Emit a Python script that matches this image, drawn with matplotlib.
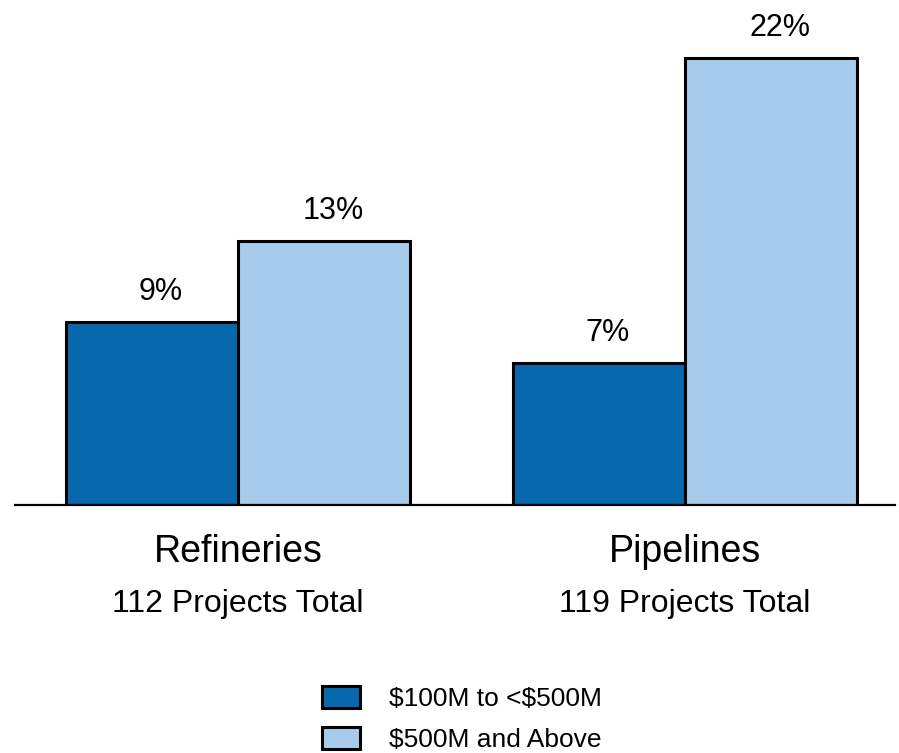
import matplotlib.pyplot as plt
from matplotlib.patches import Patch
import numpy as np

plt.rcParams['font.family'] = ['Liberation Sans', 'DejaVu Sans']

categories = ["Refineries", "Pipelines"]
subtitles = ["112 Projects Total", "119 Projects Total"]
series_names = [r"\$100M to <\$500M", r"\$500M and Above"]
small_projects = [9, 7]
large_projects = [13, 22]

colors = ["#0868AE", "#A6CBEB"]

fig = plt.figure(figsize=(8.99, 7.53), dpi=100)
# axes: spans the baseline line from the left edge nearly to the right edge
ax = fig.add_axes([15 / 899, (753 - 505) / 753, 880 / 899, 505 / 753])

x = np.arange(len(categories))
w = 0.385
b1 = ax.bar(x - w / 2, small_projects, w, color=colors[0], edgecolor="black", linewidth=2.2)
b2 = ax.bar(x + w / 2, large_projects, w, color=colors[1], edgecolor="black", linewidth=2.2)

# value labels sit a little right of each bar's centre
for bars, vals in [(b1, small_projects), (b2, large_projects)]:
    for r, v in zip(bars, vals):
        ax.annotate(f"{v}%", (r.get_x() + r.get_width() / 2, v),
                    xytext=(6.5, 16), textcoords="offset points",
                    ha="center", va="baseline", fontsize=22)

ax.set_xlim(-0.499, 1.47)
ax.set_ylim(0, 24.88)
for s in ["top", "right", "left"]:
    ax.spines[s].set_visible(False)
ax.spines["bottom"].set_linewidth(1.6)
ax.set_yticks([])
ax.set_xticks([])

# category names and project counts under each group
for i, (c, s) in enumerate(zip(categories, subtitles)):
    ax.annotate(c, (x[i], 0), xytext=(0, -34), textcoords="offset points",
                ha="center", va="center", fontsize=27)
    ax.annotate(s, (x[i], 0), xytext=(0, -71), textcoords="offset points",
                ha="center", va="center", fontsize=23)

handles = [Patch(facecolor=colors[0], edgecolor="black", linewidth=2.2),
           Patch(facecolor=colors[1], edgecolor="black", linewidth=2.2)]
fig.legend(handles, series_names, loc="upper left",
           bbox_to_anchor=(309 / 899, 1 - 673 / 753), frameon=False,
           fontsize=19, handlelength=1.45, handleheight=0.87,
           handletextpad=1.1, labelspacing=0.62, borderpad=0)

fig.savefig("out.png", dpi=100)
